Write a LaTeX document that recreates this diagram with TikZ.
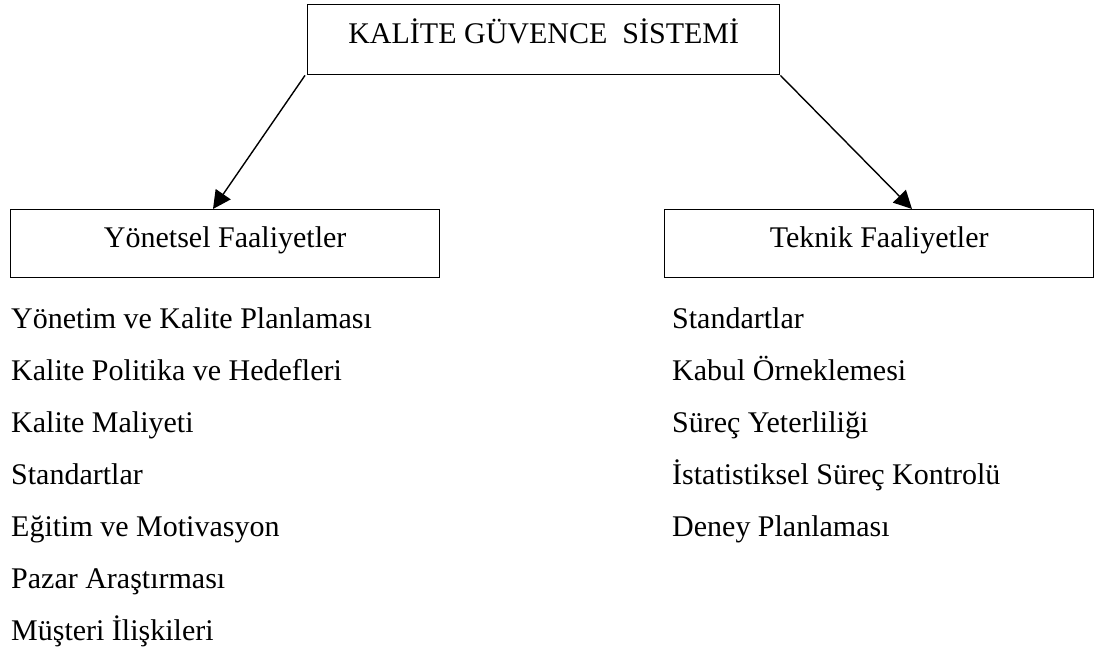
\documentclass[tikz,border=0pt]{standalone}
\usepackage{fontspec}
\setmainfont{Liberation Serif}
\usetikzlibrary{arrows.meta}

\tikzstyle {anakutu} = [draw, line width=1.4pt, inner sep=0, minimum width=472pt, text height=39pt, text depth=31pt, anchor=north west]
\tikzstyle {kutu} = [draw, line width=1.4pt, inner sep=0, minimum width=429pt, text height=38pt, text depth=30pt, anchor=north west]
\tikzstyle {madde} = [inner sep=0, text height=22pt, text depth=8pt, anchor=base west]
\tikzstyle {ok} = [line width=1.4pt, -{Triangle[length=18pt, width=18pt]}]

\begin{document}
\begin{tikzpicture}[x=1pt, y=-1pt, font=\fontsize{30}{36}\selectfont]
            \useasboundingbox (0,0) rectangle (1095,652);
            \node [anakutu] (kgs) at (307,4) {KALİTE GÜVENCE\ \ SİSTEMİ};
            \node [kutu] (yonetsel) at (10,209) {Yönetsel Faaliyetler};
            \node [kutu] (teknik) at (664,209) {Teknik Faaliyetler};
            \draw [ok] ([xshift=-2pt]kgs.south west) -- ([xshift=203pt]yonetsel.north west);
            \draw [ok] (kgs.south east) -- ([xshift=248pt]teknik.north west);
            \matrix (yonlist) [matrix anchor=north west, row sep=22pt, inner sep=0] at (11,306) {
                \node [madde] {Yönetim ve Kalite Planlaması}; \\
                \node [madde] {Kalite Politika ve Hedefleri}; \\
                \node [madde] {Kalite Maliyeti}; \\
                \node [madde] {Standartlar}; \\
                \node [madde] {Eğitim ve Motivasyon}; \\
                \node [madde] {Pazar Araştırması}; \\
                \node [madde] {Müşteri İlişkileri}; \\
            };
            \matrix (teklist) [matrix anchor=north west, row sep=22pt, inner sep=0] at (672,306) {
                \node [madde] {Standartlar}; \\
                \node [madde] {Kabul Örneklemesi}; \\
                \node [madde] {Süreç Yeterliliği}; \\
                \node [madde] {İstatistiksel Süreç Kontrolü}; \\
                \node [madde] {Deney Planlaması}; \\
            };
        \end{tikzpicture}
\end{document}
